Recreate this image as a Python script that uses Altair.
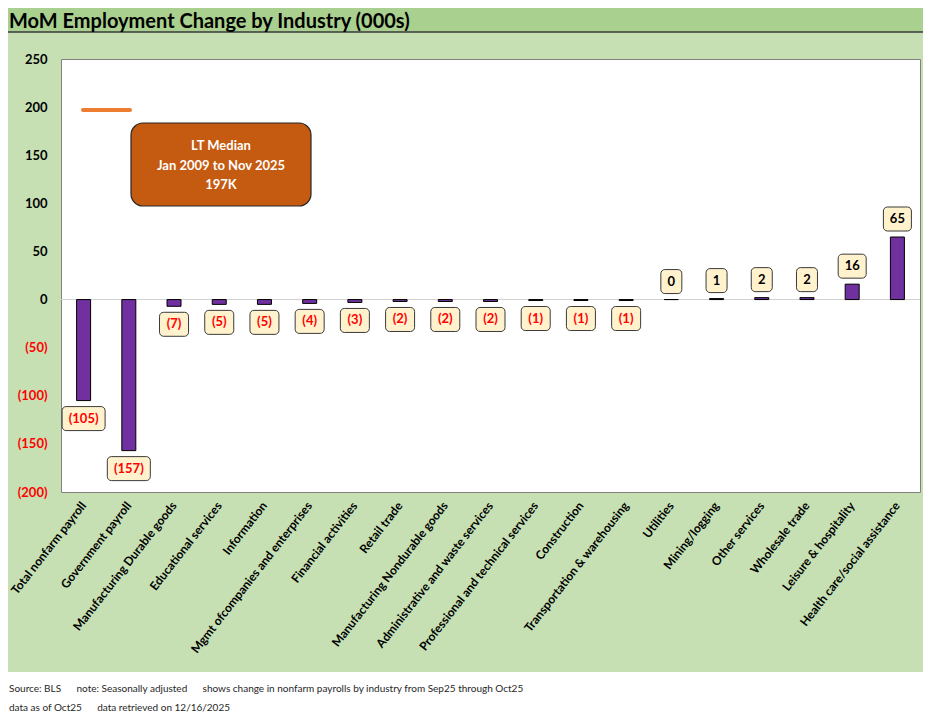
import altair as alt
import pandas as pd

categories = [
    "Total nonfarm payroll", "Government payroll", "Manufacturing Durable goods",
    "Educational services", "Information", "Mgmt ofcompanies and enterprises",
    "Financial activities", "Retail trade", "Manufacturing Nondurable goods",
    "Administrative and waste services", "Professional and technical services",
    "Construction", "Transportation & warehousing", "Utilities", "Mining/logging",
    "Other services", "Wholesale trade", "Leisure & hospitality",
    "Health care/social assistance",
]
values = [-105, -157, -7, -5, -5, -4, -3, -2, -2, -2, -1, -1, -1, 0, 1, 2, 2, 16, 65]
median_value = [197]
y_ticks = [-200, -150, -100, -50, 0, 50, 100, 150, 200, 250]

NB = "\u00a0"
title_text = "MoM Employment Change by Industry (000s)"
note_line1 = ("Source: BLS" + NB * 6 + "note: Seasonally adjusted" + NB * 6 +
              "shows change in nonfarm payrolls by industry from Sep25 through Oct25")
note_line2 = "data as of Oct25" + NB * 6 + "data retrieved on 12/16/2025"
callout_lines = ["LT Median", "Jan 2009 to Nov 2025", "197K"]

FONT = "Lato"
W, H = 859, 433
ppu = H / 450.0  # pixels per unit

df = pd.DataFrame({"cat": categories, "v": values})
df["label"] = [f"({abs(v)})" if v < 0 else f"{v}" for v in values]
off = 18 / ppu
half = 12 / ppu
df["c"] = [v - off if v < 0 else v + off for v in values]
df["y1"] = df["c"] + half
df["y2"] = df["c"] - half
df["bw"] = [14 + 7 * len(str(abs(v))) + (8 if v < 0 else 0) for v in values]
df["neg"] = [1 if v < 0 else 0 for v in values]

one = pd.DataFrame({"k": [0]})
med = pd.DataFrame({"m": median_value})

xaxis = alt.Axis(title=None, labelAngle=-52, labelFont=FONT, labelFontSize=12,
                 labelFontWeight="bold", labelColor="black", labelPadding=11,
                 labelLimit=400, ticks=False, domain=False, grid=False)
xenc = alt.X("cat:N", sort=categories,
             scale=alt.Scale(paddingInner=0, paddingOuter=0), axis=xaxis)
yscale = alt.Scale(domain=[-200, 250], nice=False, zero=False)
yaxis = alt.Axis(title=None, values=y_ticks, labelFont=FONT, labelFontSize=13,
                 labelFontWeight="bold", labelPadding=14, ticks=False, domain=False,
                 gridColor="#EBEBEB",
                 labelExpr="datum.value < 0 ? '(' + abs(datum.value) + ')' : datum.label",
                 labelColor={"condition": {"test": "datum.value < 0", "value": "#FF0000"},
                             "value": "black"})

zero = alt.Chart(one).mark_rule(color="#D0D0D0", strokeWidth=1).encode(
    y=alt.datum(0, scale=yscale, axis=yaxis))

bars = alt.Chart(df).mark_bar(color="#7030A0", stroke="black", strokeWidth=1, size=14).encode(
    x=xenc, y=alt.Y("v:Q", scale=yscale, axis=yaxis), y2=alt.datum(0))

boxes = alt.Chart(df).mark_bar(fill="#FFF2CC", stroke="#3A3A3A", strokeWidth=1,
                               cornerRadius=4).encode(
    x=xenc, y=alt.Y("y1:Q", scale=yscale, axis=yaxis), y2="y2:Q",
    size=alt.Size("bw:Q", scale=None, legend=None))

labels = alt.Chart(df).mark_text(font=FONT, fontSize=13, fontWeight="bold",
                                 baseline="middle", align="center").encode(
    x=xenc, y=alt.Y("c:Q", scale=yscale, axis=yaxis), text="label:N",
    color=alt.condition(alt.datum.neg == 1, alt.value("#FF0000"), alt.value("black")))

median_line = alt.Chart(med).mark_rule(color="#ED7D31", strokeWidth=4, strokeCap="round").encode(
    x=alt.value(22), x2=alt.value(69), y=alt.Y("m:Q", scale=yscale, axis=yaxis))

callout_box = alt.Chart(one).mark_rect(fill="#C55A11", stroke="#262626", strokeWidth=1.2,
                                       cornerRadius=12).encode(
    x=alt.value(70), x2=alt.value(250), y=alt.value(64), y2=alt.value(147))
callout_text = alt.Chart(one).mark_text(text=callout_lines, font=FONT, fontSize=13,
                                        fontWeight="bold", color="white", lineHeight=19.5,
                                        align="center", baseline="middle").encode(
    x=alt.value(160), y=alt.value(87))

CW = 915 - 53  # canvas right edge relative to plot origin
title_band = alt.Chart(one).mark_rect(fill="#A9D08E").encode(
    x=alt.value(-53), x2=alt.value(CW), y=alt.value(-51), y2=alt.value(-27))
title_line = alt.Chart(one).mark_rule(color="#3A3A3A", strokeWidth=1.5).encode(
    x=alt.value(-53), x2=alt.value(CW), y=alt.value(-27))
title_mark = alt.Chart(one).mark_text(text=title_text, font=FONT, fontSize=20,
                                      fontWeight="bold", color="black", align="left",
                                      baseline="alphabetic").encode(
    x=alt.value(-52), y=alt.value(-31))

footer_band = alt.Chart(one).mark_rect(fill="white").encode(
    x=alt.value(-53), x2=alt.value(CW), y=alt.value(613), y2=alt.value(660))
foot1 = alt.Chart(one).mark_text(text=note_line1, font=FONT, fontSize=10, color="#262626",
                                 align="left", baseline="alphabetic").encode(
    x=alt.value(-52), y=alt.value(633))
foot2 = alt.Chart(one).mark_text(text=note_line2, font=FONT, fontSize=10, color="#262626",
                                 align="left", baseline="alphabetic").encode(
    x=alt.value(-52), y=alt.value(652))

chart = alt.layer(
    title_band, title_line, title_mark, footer_band, foot1, foot2,
    zero, bars, boxes, labels, median_line, callout_box, callout_text,
).properties(
    width=W, height=H,
    autosize=alt.AutoSizeParams(type="none"),
    padding={"left": 53, "top": 51, "right": 3, "bottom": 221},
    background="#C6E0B4",
).configure_view(fill="white", stroke="#808080", strokeWidth=1)

chart.save("out.html", embed_options={"renderer": "svg", "actions": False})
